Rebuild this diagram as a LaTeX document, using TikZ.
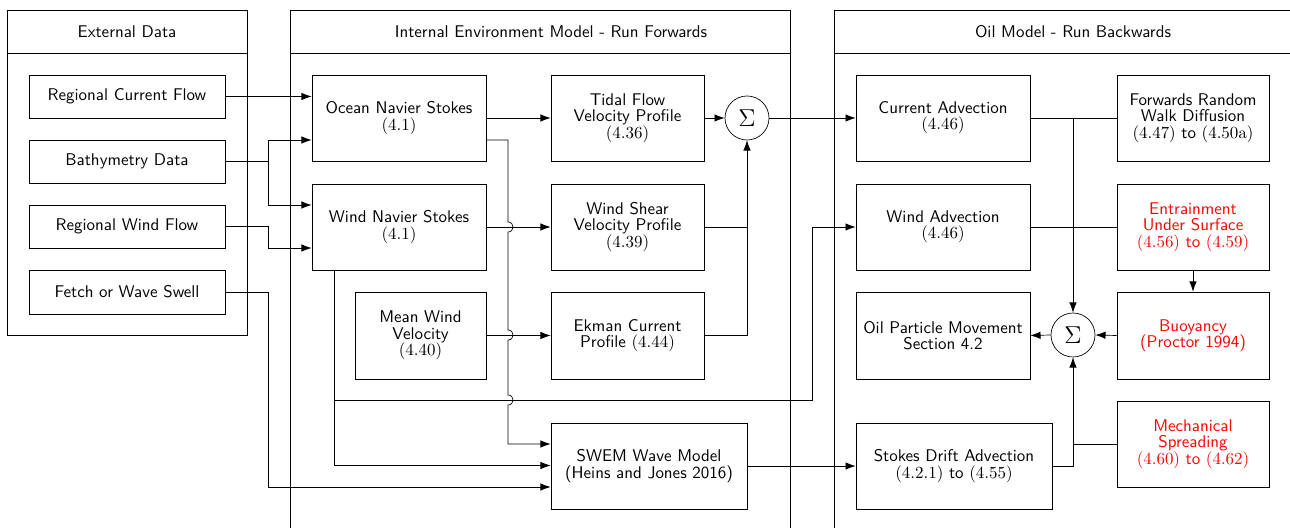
\documentclass[tikz,border=0pt]{standalone}
\usetikzlibrary{arrows.meta}
\begin{document}
\begin{tikzpicture}[x=0.59pt,y=-0.59pt,
  every node/.style={font=\sffamily, align=center},
  blk/.style 2 args={draw, minimum width=#1*0.59pt, minimum height=#2*0.59pt,
    inner sep=0pt, execute at begin node={\setlength{\baselineskip}{9.6pt}}},
  sumnode/.style={draw, circle, minimum size=44*0.59pt, inner sep=0pt, font=\Large},
  arr/.style={-{Latex[length=6pt,width=4.4pt]}},
  hot/.style={text=red},
]
\useasboundingbox (0,0) rectangle (1290,528);
\clip (0,0) rectangle (1290,528);

% ---- swimlane frames ----
\draw (7,10) rectangle (247,335);
\draw (7,53) -- (247,53);
\node (hext) at (127,31.5) {External Data};

\draw (290,530) -- (290,10) -- (790,10) -- (790,530);
\draw (290,53) -- (790,53);
\node (hint) at (551,31.5) {Internal Environment Model - Run Forwards};

\draw (1292,10) -- (834,10) -- (834,530);
\draw (834,53) -- (1292,53);
\node (hoil) at (1073,31.5) {Oil Model - Run Backwards};

% ---- external data ----
\node[blk={196}{43}] (rcf)   at (127,96.5)  {Regional Current Flow};
\node[blk={196}{43}] (bath)  at (127,161.5) {Bathymetry Data};
\node[blk={196}{43}] (rwf)   at (127,226.5) {Regional Wind Flow};
\node[blk={196}{44}] (fetch) at (127,292)   {Fetch or Wave Swell};

% ---- internal environment model ----
\node[blk={174}{86}] (ons)   at (399,118)   {Ocean Navier Stokes\\$(4.1)$};
\node[blk={174}{86}] (wns)   at (399,227)   {Wind Navier Stokes\\$(4.1)$};
\node[blk={131}{87}] (mwv)   at (420.5,335.5) {Mean Wind\\Velocity\\$(4.40)$};
\node[blk={153}{86}] (tidal) at (627.5,118) {Tidal Flow\\Velocity Profile\\$(4.36)$};
\node[blk={153}{86}] (shear) at (627.5,227) {Wind Shear\\Velocity Profile\\$(4.39)$};
\node[blk={153}{87}] (ekman) at (627.5,335.5) {Ekman Current\\Profile $(4.44)$};
\node[blk={196}{86}] (swem)  at (649,466)   {SWEM Wave Model\\(Heins and Jones 2016)};
\node[sumnode] (sum1) at (747,118) {$\Sigma$};

% ---- oil model ----
\node[blk={174}{86}] (cadv)   at (943,118)   {Current Advection\\$(4.46)$};
\node[blk={174}{86}] (wadv)   at (943,227)   {Wind Advection\\$(4.46)$};
\node[blk={174}{87}] (oil)    at (943,335.5) {Oil Particle Movement\\Section 4.2};
\node[blk={196}{86}] (stokes) at (954,466)   {Stokes Drift Advection\\$(4.2.1)$ to $(4.55)$};
\node[blk={152}{86}] (frw)    at (1193,118)  {Forwards Random\\Walk Diffusion\\$(4.47)$ to $(4.50\mathrm{a})$};
\node[blk={152}{86},hot] (entr) at (1193,227) {Entrainment\\Under Surface\\$(4.56)$ to $(4.59)$};
\node[blk={152}{87},hot] (buoy) at (1193,335.5) {Buoyancy\\(Proctor 1994)};
\node[blk={152}{86},hot] (mech) at (1193,444) {Mechanical\\Spreading\\$(4.60)$ to $(4.62)$};
\node[sumnode] (sum2) at (1073,335) {$\Sigma$};

% ---- external inputs ----
\draw[arr] (rcf.east) -- (ons.west |- rcf.east);
\draw[arr] (bath.east) -- (268,161.5) |- (ons.west |- 0,140);
\draw[arr] (268,161.5) |- (wns.west |- 0,205);
\draw[arr] (rwf.east) -- (268,226.5) |- (wns.west |- 0,248);
\draw[arr] (fetch.east) -- (268,292) |- (swem.west |- 0,487);

% ---- internal flows ----
\draw[arr] (ons.east) -- (tidal.west);
\draw[arr] (wns.east) -- (shear.west);
\draw[arr] (mwv.east) -- (ekman.west);
% ocean branch to the wave model, hopping over the crossing lines
\draw[arr] (ons.east |- 0,140) -- (508,140) -- (508,222)
  .. controls (514.7,222) and (514.7,232) .. (508,232) -- (508,330)
  .. controls (514.7,330) and (514.7,340) .. (508,340) -- (508,395)
  .. controls (514.7,395) and (514.7,405) .. (508,405) -- (508,444)
  -- (swem.west |- 0,444);
% wind branch to the wave model and to wind advection
\draw[arr] (wns.south -| 334,0) -- (334,465.5) -- (swem.west |- 0,465.5);
\coordinate (wbr) at (334,400);
\draw[arr] (wbr) -- (812,400) |- (wadv.west);
% summation of velocity profiles
\draw[arr] (tidal.east) -- (sum1.west);
\draw (ekman.east) -| (747,227);
\draw[arr] (shear.east) -| (sum1.south);
\draw[arr] (sum1.east) -- (cadv.west);
\draw[arr] (swem.east) -- (stokes.west);

% ---- oil model flows ----
\draw (cadv.east) -- (frw.west);
\draw[arr] (1073,118) -- (sum2.north);
\draw (wadv.east) -- (entr.west);
\draw[arr] (entr.south) -- (buoy.north);
\draw[arr] (buoy.west) -- (sum2.east);
\draw[arr] (sum2.west) -- (oil.east);
\draw[arr] (stokes.east) -| (sum2.south);
\draw (mech.west) -- (1073,444);
\end{tikzpicture}
\end{document}
